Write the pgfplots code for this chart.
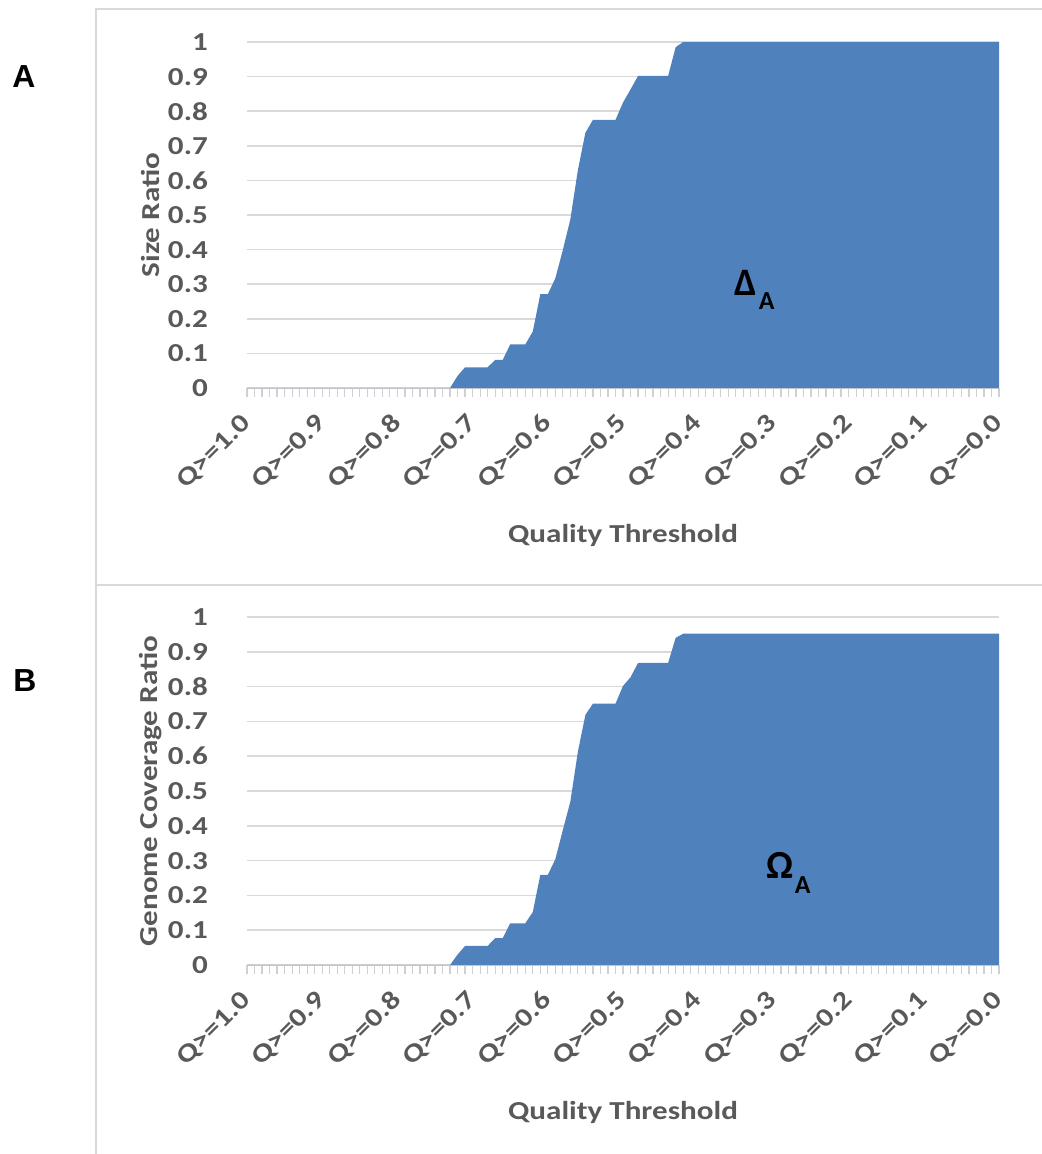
\documentclass[border=0pt]{standalone}
\usepackage{fontspec}
\setmainfont{Carlito}[FakeStretch=1.2]
\newfontfamily\symf{Carlito}
\newfontfamily\arialb{Liberation Sans}
\usepackage{pgfplots}
\pgfplotsset{compat=1.18}
\definecolor{areablue}{HTML}{4F81BD}
\definecolor{txtgray}{HTML}{595959}
\definecolor{gridgray}{HTML}{D9D9D9}
\definecolor{tickgray}{HTML}{D0D0D0}
\newcommand\lab{\fontsize{26}{30}\selectfont\bfseries}
\pgfplotsset{
  panel/.style={
    scale only axis, width=752bp,
    xmin=0, xmax=100, ymin=0, ymax=1,
    axis x line*=bottom, axis y line*=left,
    y axis line style={draw=none},
    x axis line style={draw=tickgray, line width=1.5bp},
    xtick={0,10,...,100},
    xticklabels={Q>=1.0,Q>=0.9,Q>=0.8,Q>=0.7,Q>=0.6,Q>=0.5,Q>=0.4,Q>=0.3,Q>=0.2,Q>=0.1,Q>=0.0},
    minor xtick={0,1,...,100},
    tick align=outside,
    major tick length=9bp, minor tick length=9bp,
    xtick style={draw=tickgray, line width=1.2bp},
    ytick={0,0.1,...,1.0},
    yticklabels={0,0.1,0.2,0.3,0.4,0.5,0.6,0.7,0.8,0.9,1},
    ytick style={draw=none},
    ymajorgrids,
    major grid style={draw=gridgray, line width=1.5bp},
    yticklabel style={font=\lab, text=txtgray, anchor=east, inner sep=0pt, xshift=-30bp},
    xticklabel style={font=\lab, text=txtgray, rotate=45, anchor=east, inner sep=0pt},
    xticklabel shift=22bp,
    xlabel={Quality Threshold},
    xlabel style={font=\lab, text=txtgray, at={(axis description cs:0.5,0)}, anchor=base, yshift=-154bp},
    ylabel style={font=\lab, text=txtgray, at={(axis description cs:-0.1277,0.5)}, anchor=center, rotate=0},
  }
}
\begin{document}
\begin{tikzpicture}[x=1bp,y=1bp]
\path[use as bounding box] (0,0) rectangle (1042,-1154);
\draw[gridgray, line width=1.5bp] (96,-1154) -- (96,-9) -- (1042,-9);
\draw[gridgray, line width=1.5bp] (96,-585) -- (1042,-585);
\node[font=\arialb\fontsize{32}{32}\selectfont\bfseries] at (24,-77) {A};
\node[font=\arialb\fontsize{32}{32}\selectfont\bfseries] at (25,-681) {B};

\begin{axis}[panel, at={(247bp,-388bp)}, anchor=south west, height=346bp, ylabel={Size Ratio}]
\addplot[fill=areablue, draw=none] coordinates {
(0,0) (27,0) (28,0.035) (29,0.06) (30,0.06) (31,0.06) (32,0.06) (33,0.081) (34,0.081)
(35,0.126) (36,0.126) (37,0.126) (38,0.163) (39,0.271) (40,0.271) (41,0.317) (42,0.399)
(43,0.488) (44,0.63) (45,0.738) (46,0.775) (47,0.775) (48,0.775) (49,0.775) (50,0.825)
(51,0.863) (52,0.902) (53,0.902) (54,0.902) (55,0.902) (56,0.902) (57,0.985) (58,1)
(59,1) (100,1)
} \closedcycle;
\node[font=\symf\fontsize{39}{39}\selectfont\bfseries, inner sep=0pt] at (axis cs:66.3,0.305) {Δ};
\node[font=\symf\fontsize{26}{26}\selectfont\bfseries, inner sep=0pt] at (axis cs:69.1,0.25) {A};
\end{axis}

\begin{axis}[panel, at={(247bp,-965bp)}, anchor=south west, height=348bp, ylabel={Genome Coverage Ratio}]
\addplot[fill=areablue, draw=none] coordinates {
(0,0) (27,0) (28,0.03) (29,0.055) (30,0.055) (31,0.055) (32,0.055) (33,0.077) (34,0.077)
(35,0.12) (36,0.12) (37,0.12) (38,0.152) (39,0.259) (40,0.259) (41,0.304) (42,0.388)
(43,0.47) (44,0.613) (45,0.719) (46,0.751) (47,0.751) (48,0.751) (49,0.751) (50,0.802)
(51,0.827) (52,0.868) (53,0.868) (54,0.868) (55,0.868) (56,0.868) (57,0.94) (58,0.952)
(59,0.952) (100,0.952)
} \closedcycle;
\node[font=\symf\fontsize{40}{40}\selectfont\bfseries, inner sep=0pt] at (axis cs:70.9,0.285) {Ω};
\node[font=\symf\fontsize{26}{26}\selectfont\bfseries, inner sep=0pt] at (axis cs:73.9,0.23) {A};
\end{axis}
\end{tikzpicture}
\end{document}
